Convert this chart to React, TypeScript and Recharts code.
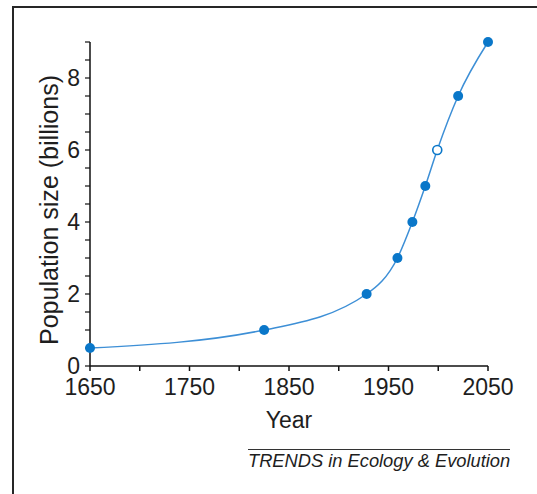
import React from "react";
import { LineChart, Line, XAxis, YAxis } from "recharts";

const years = [1650, 1825, 1928, 1959, 1974, 1987, 1999, 2020, 2050];
const populationBillions = [0.5, 1, 2, 3, 4, 5, 6, 7.5, 9];
const hollowYears = [1999];
const xTicks = [1650, 1700, 1750, 1800, 1850, 1900, 1950, 2000, 2050];
const xLabelYears = [1650, 1750, 1850, 1950, 2050];
const yTicks = [0, 0.5, 1, 1.5, 2, 2.5, 3, 3.5, 4, 4.5, 5, 5.5, 6, 6.5, 7, 7.5, 8, 8.5, 9];
const yLabelValues = [0, 2, 4, 6, 8];
const xTitle = "Year";
const yTitle = "Population size (billions)";
const sourceText = "TRENDS in Ecology & Evolution";

const data = years.map((y, i) => ({ year: y, pop: populationBillions[i] }));

const FONT = "'Liberation Sans', Arial, Helvetica, sans-serif";
const TEXT = "#1e1e1e";
const DOT = "#0a77c9";
const LINE = "#3d8fd6";

const renderDot = (props: any) => {
  const { cx, cy, payload, index } = props;
  const hollow = hollowYears.includes(payload.year);
  return (
    <circle
      key={"d" + index}
      cx={cx}
      cy={cy}
      r={hollow ? 4.5 : 5}
      fill={hollow ? "#ffffff" : DOT}
      stroke={DOT}
      strokeWidth={hollow ? 1.6 : 0}
    />
  );
};

const YTitle = () => {
  const x = 58;
  const y = 210;
  return (
    <text
      x={x}
      y={y}
      transform={`rotate(-90 ${x} ${y})`}
      textAnchor="middle"
      fontFamily={FONT}
      fontSize={25}
      textLength={270}
      lengthAdjust="spacingAndGlyphs"
      fill={TEXT}
    >
      {yTitle}
    </text>
  );
};

const XTitle = () => {
  return (
    <text x={289} y={428} textAnchor="middle" fontFamily={FONT} fontSize={23} fill={TEXT}>
      {xTitle}
    </text>
  );
};

export default function App() {
  return (
    <div
      style={{
        position: "absolute",
        left: 0,
        top: 0,
        width: 537,
        height: 494,
        overflow: "hidden",
        background: "#ffffff",
      }}
    >
      <div
        style={{
          position: "absolute",
          left: 12,
          top: 6,
          width: 700,
          height: 700,
          border: "2px solid #262626",
          boxSizing: "border-box",
        }}
      />
      <LineChart
        width={537}
        height={494}
        data={data}
        margin={{ top: 42, right: 49, bottom: 98, left: 0 }}
        style={{ position: "absolute", left: 0, top: 0 }}
      >
        <XAxis
          dataKey="year"
          type="number"
          domain={[1650, 2050]}
          ticks={xTicks}
          interval={0}
          height={30}
          tickSize={5}
          tickMargin={8}
          axisLine={{ stroke: "#111", strokeWidth: 1.5 }}
          tickLine={{ stroke: "#111", strokeWidth: 1.5 }}
          tick={{ fill: TEXT, fontSize: 23, fontFamily: FONT }}
          tickFormatter={(v: number) => (xLabelYears.includes(v) ? String(v) : "")}
          label={<XTitle />}
        />
        <YAxis
          type="number"
          domain={[0, 9]}
          ticks={yTicks}
          interval={0}
          width={90}
          tickSize={5}
          tickMargin={5}
          axisLine={{ stroke: "#111", strokeWidth: 1.5 }}
          tickLine={{ stroke: "#111", strokeWidth: 1.2 }}
          tick={{ fill: TEXT, fontSize: 23, fontFamily: FONT }}
          tickFormatter={(v: number) => (yLabelValues.includes(v) ? String(v) : "")}
          label={<YTitle />}
        />
        <Line
          type="monotone"
          dataKey="pop"
          stroke={LINE}
          strokeWidth={1.5}
          dot={renderDot}
          activeDot={false}
          isAnimationActive={false}
        />
      </LineChart>
      <div
        style={{
          position: "absolute",
          left: 248,
          top: 449,
          width: 262,
          borderTop: "1px solid #333",
        }}
      />
      <div
        style={{
          position: "absolute",
          left: 248,
          top: 451,
          width: 262,
          fontFamily: FONT,
          fontStyle: "italic",
          fontSize: 18.3,
          lineHeight: "20px",
          color: TEXT,
          whiteSpace: "nowrap",
        }}
      >
        {sourceText}
      </div>
    </div>
  );
}
